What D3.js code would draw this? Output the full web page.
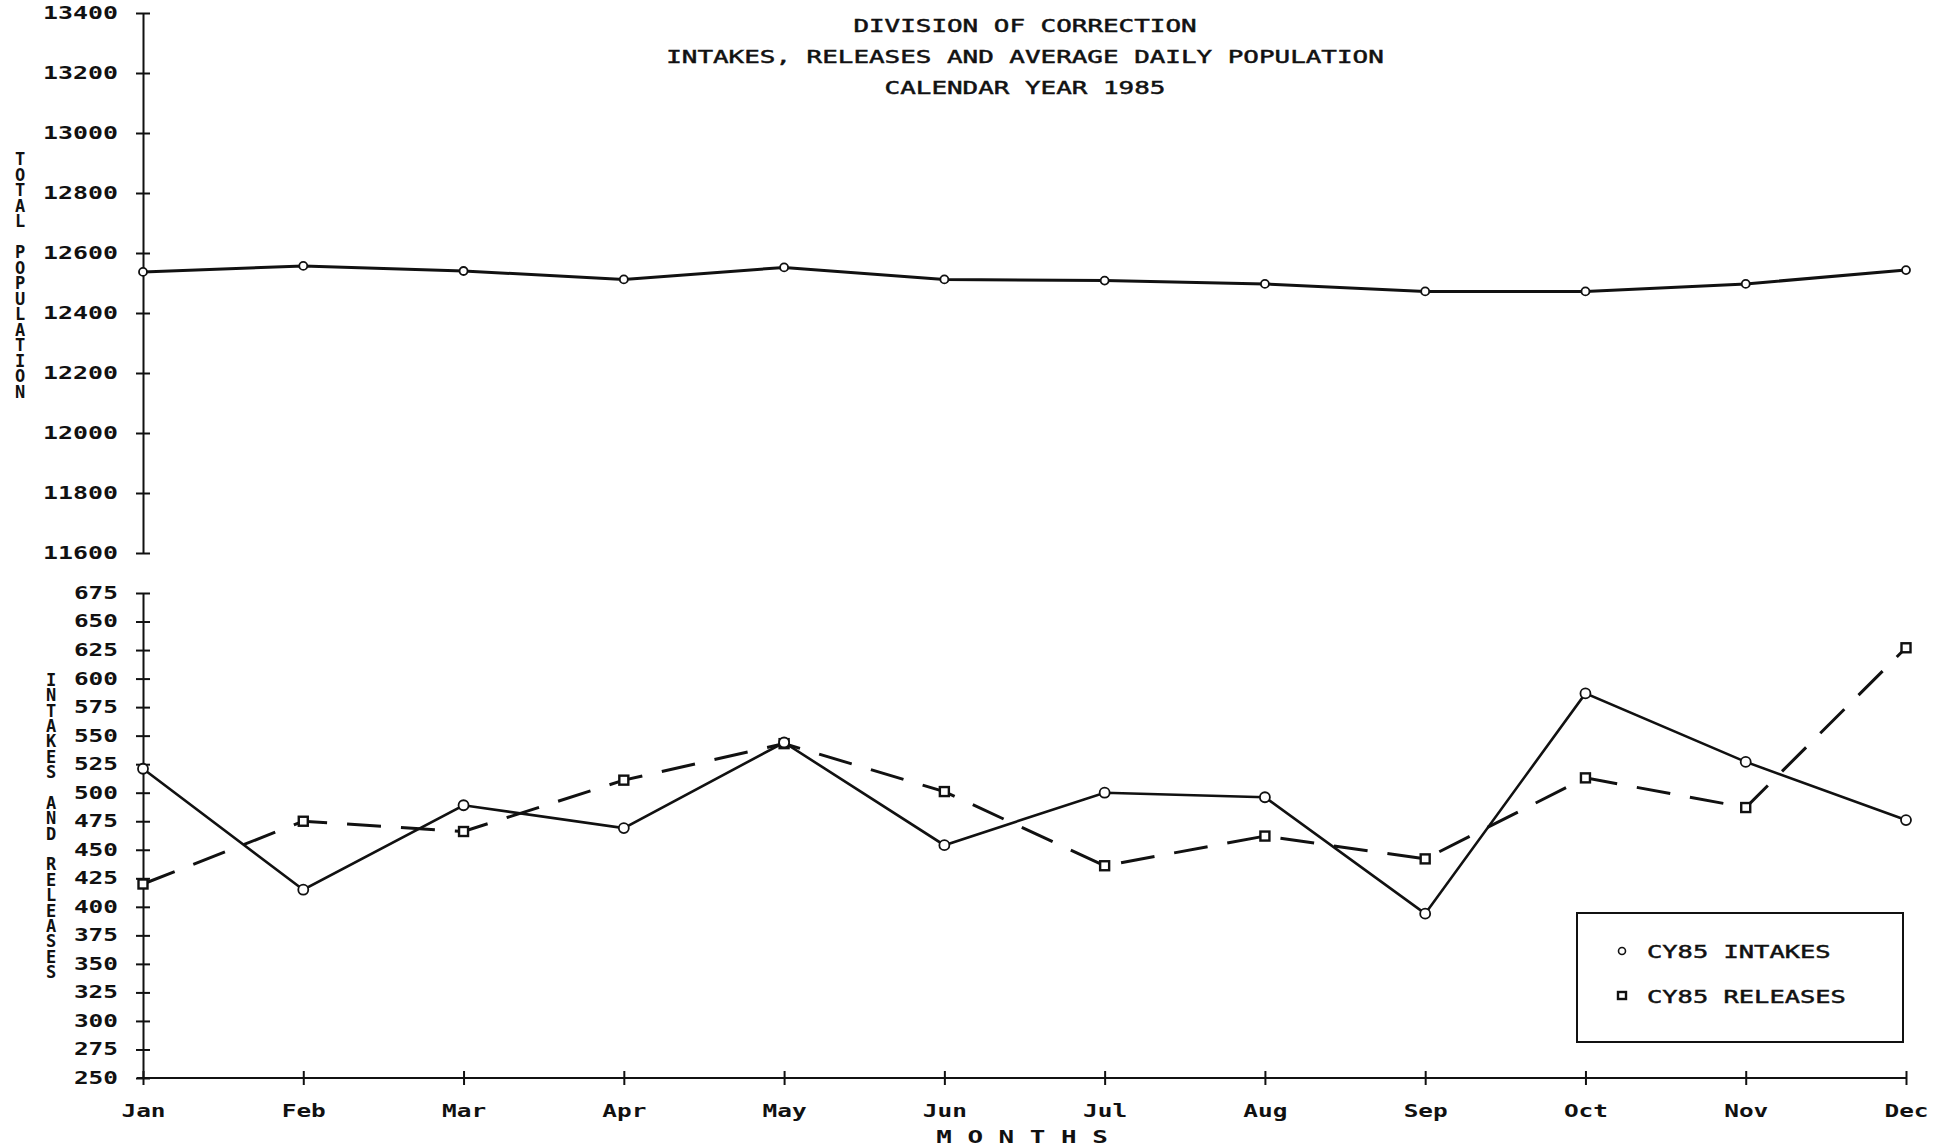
<!DOCTYPE html>
<html>
<head>
<meta charset="utf-8">
<script src="https://cdn.jsdelivr.net/npm/d3@7"></script>
<style>
  html, body { margin: 0; padding: 0; background: #fff; }
  svg { display: block; }
  text { font-family: "DejaVu Sans Mono", "Liberation Mono", monospace; fill: #111; }
  .stacked { writing-mode: vertical-rl; text-orientation: upright; }
</style>
</head>
<body>
<svg id="chart" width="1945" height="1148"></svg>
<script>
const months = ['Jan', 'Feb', 'Mar', 'Apr', 'May', 'Jun', 'Jul', 'Aug', 'Sep', 'Oct', 'Nov', 'Dec'];
const populationTicks = [13400, 13200, 13000, 12800, 12600, 12400, 12200, 12000, 11800, 11600];
const countTicks = [675, 650, 625, 600, 575, 550, 525, 500, 475, 450, 425, 400, 375, 350, 325, 300, 275, 250];
const population = [12537, 12557, 12540, 12512, 12552, 12512, 12508, 12497, 12472, 12472, 12497, 12543];
const intakes = [521, 415, 489, 469, 544, 454, 500, 496, 394, 587, 527, 476];
const releases = [420, 475, 466, 511, 543, 501, 436, 462, 442, 513, 487, 627];
const titleLines = ['DIVISION OF CORRECTION', 'INTAKES, RELEASES AND AVERAGE DAILY POPULATION', 'CALENDAR YEAR 1985'];

const svg = d3.select('#chart');
const ink = '#111';

// stretch glyphs wide like the old plotter font
const wide = (sel, w) => sel
    .attr('textLength', function () { return this.textContent.length * w; })
    .attr('lengthAdjust', 'spacingAndGlyphs');

const x = d3.scalePoint().domain(months).range([143, 1906]);
const yPop = d3.scaleLinear().domain([11600, 13400]).range([553, 13]);
const yCount = d3.scaleLinear().domain([250, 675]).range([1078, 593]);

// title
svg.append('g')
    .selectAll('text')
    .data(titleLines)
    .enter()
    .append('text')
    .attr('x', 1025)
    .attr('y', (d, i) => 32 + i * 31)
    .attr('text-anchor', 'middle')
    .attr('font-size', 17)
    .attr('stroke', ink)
    .attr('stroke-width', 0.45)
    .text((d) => d)
    .call(wide, 15.6);

const styleYAxis = (g, w) => {
    g.select('.domain').attr('stroke', ink).attr('stroke-width', 2);
    g.selectAll('.tick line').attr('x1', 7).attr('stroke', ink).attr('stroke-width', 2);
    g.selectAll('.tick text')
        .attr('x', -25)
        .attr('font-size', 17)
        .attr('font-weight', 'bold')
        .call(wide, w);
};

// top panel: total population
svg.append('g')
    .attr('transform', 'translate(143,0)')
    .call(d3.axisLeft(yPop).tickValues(populationTicks).tickSize(7).tickSizeOuter(0).tickFormat(d3.format('d')))
    .call(styleYAxis, 15);

svg.append('path')
    .datum(population)
    .attr('fill', 'none')
    .attr('stroke', ink)
    .attr('stroke-width', 3)
    .attr('d', d3.line().x((d, i) => x(months[i])).y((d) => yPop(d)));

svg.append('g')
    .selectAll('circle')
    .data(population)
    .enter()
    .append('circle')
    .attr('cx', (d, i) => x(months[i]))
    .attr('cy', (d) => yPop(d))
    .attr('r', 4)
    .attr('fill', '#fff')
    .attr('stroke', ink)
    .attr('stroke-width', 1.8);

// bottom panel: intakes and releases
svg.append('g')
    .attr('transform', 'translate(143,0)')
    .call(d3.axisLeft(yCount).tickValues(countTicks).tickSize(7).tickSizeOuter(0))
    .call(styleYAxis, 14.7);

const xAxis = svg.append('g')
    .attr('transform', 'translate(0,1078)')
    .call(d3.axisBottom(x).tickSize(7).tickSizeOuter(0));
xAxis.select('.domain').attr('stroke', ink).attr('stroke-width', 2).attr('d', 'M137,0H1906');
xAxis.selectAll('.tick line').attr('y1', -7).attr('stroke', ink).attr('stroke-width', 2);
xAxis.selectAll('.tick text')
    .attr('y', 39)
    .attr('dy', 0)
    .attr('font-size', 17)
    .attr('font-weight', 'bold')
    .call(wide, 14.7);

svg.append('text')
    .attr('x', 1022)
    .attr('y', 1143)
    .attr('text-anchor', 'middle')
    .attr('font-size', 17)
    .attr('font-weight', 'bold')
    .text('M O N T H S')
    .call(wide, 15.6);

const countLine = d3.line().x((d, i) => x(months[i])).y((d) => yCount(d));

svg.append('path')
    .datum(releases)
    .attr('fill', 'none')
    .attr('stroke', ink)
    .attr('stroke-width', 3)
    .attr('stroke-dasharray', '34 20')
    .attr('d', countLine);

svg.append('path')
    .datum(intakes)
    .attr('fill', 'none')
    .attr('stroke', ink)
    .attr('stroke-width', 2.6)
    .attr('d', countLine);

svg.append('g')
    .selectAll('rect')
    .data(releases)
    .enter()
    .append('rect')
    .attr('x', (d, i) => x(months[i]) - 4.5)
    .attr('y', (d) => yCount(d) - 4.5)
    .attr('width', 9)
    .attr('height', 9)
    .attr('fill', '#fff')
    .attr('stroke', ink)
    .attr('stroke-width', 2.4);

svg.append('g')
    .selectAll('circle')
    .data(intakes)
    .enter()
    .append('circle')
    .attr('cx', (d, i) => x(months[i]))
    .attr('cy', (d) => yCount(d))
    .attr('r', 5)
    .attr('fill', '#fff')
    .attr('stroke', ink)
    .attr('stroke-width', 1.8);

// vertical stacked axis titles, upright letters in one text each
const stacked = (label, cx, top, step) => {
    svg.append('text')
        .attr('class', 'stacked')
        .attr('x', cx)
        .attr('y', top)
        .attr('font-size', 17)
        .attr('font-weight', 'bold')
        .attr('textLength', label.length * step)
        .attr('lengthAdjust', 'spacing')
        .text(label);
};
stacked('TOTAL POPULATION', 20, 149, 15.8);
stacked('INTAKES AND RELEASES', 51, 670, 15.6);

// legend
const legend = svg.append('g');
legend.append('rect')
    .attr('x', 1577)
    .attr('y', 913)
    .attr('width', 326)
    .attr('height', 129)
    .attr('fill', 'none')
    .attr('stroke', ink)
    .attr('stroke-width', 2);
legend.append('circle')
    .attr('cx', 1622)
    .attr('cy', 951)
    .attr('r', 3.5)
    .attr('fill', '#fff')
    .attr('stroke', ink)
    .attr('stroke-width', 1.6);
legend.append('rect')
    .attr('x', 1618)
    .attr('y', 992)
    .attr('width', 8)
    .attr('height', 7)
    .attr('fill', '#fff')
    .attr('stroke', ink)
    .attr('stroke-width', 2.4);
[['CY85 INTAKES', 958], ['CY85 RELEASES', 1003]].forEach(([label, y]) => {
    legend.append('text')
        .attr('x', 1647)
        .attr('y', y)
        .attr('font-size', 17)
        .attr('stroke', ink)
        .attr('stroke-width', 0.45)
        .text(label)
        .call(wide, 15.3);
});
</script>
</body>
</html>
